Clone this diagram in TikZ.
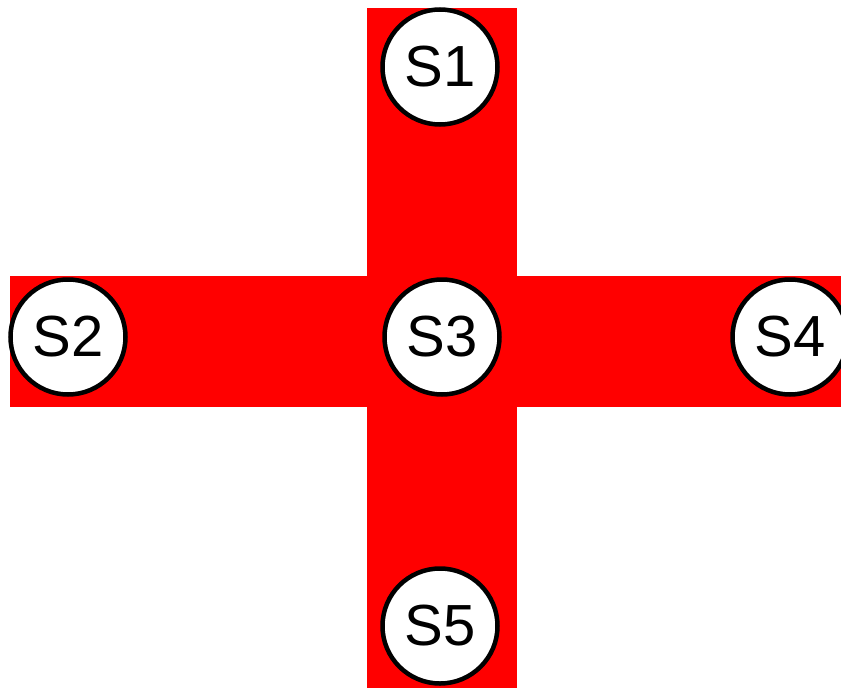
\documentclass[tikz,border=0pt]{standalone}
\usepackage{fontspec}
\setmainfont{Liberation Sans}
\begin{document}
\begin{tikzpicture}[x=1pt,y=-1pt,
  station/.style={circle,draw=black,line width=4.5pt,fill=white,minimum size=115pt,inner sep=0pt,font=\fontsize{58}{60}\selectfont},
  bar/.style={fill=red,draw=none}]
\useasboundingbox (0,0) rectangle (841,688);
\fill[white] (0,0) rectangle (841,688);
\path[bar] (367,8) rectangle (517,688);
\path[bar] (10,276) rectangle (841,407);
\node[station] (s1) at (440,67) {S1};
\node[station] (s2) at (68,337) {S2};
\node[station] (s3) at (442,337) {S3};
\node[station] (s4) at (790,337) {S4};
\node[station] (s5) at (440,626) {S5};
\end{tikzpicture}
\end{document}
